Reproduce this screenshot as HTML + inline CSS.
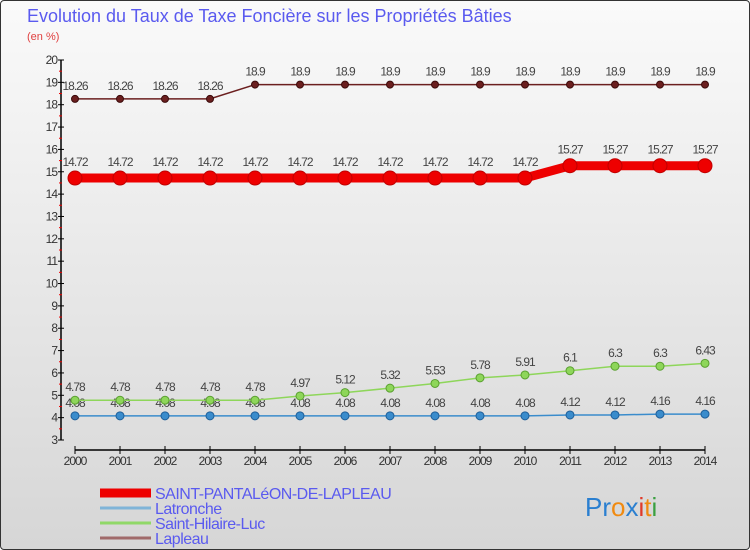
<!DOCTYPE html>
<html><head><meta charset="utf-8"><style>
html,body{margin:0;padding:0;}
body{width:750px;height:550px;overflow:hidden;font-family:"Liberation Sans",sans-serif;}
#wrap{position:absolute;left:0;top:0;width:748px;height:548px;border:1px solid #333;border-radius:4px;background:linear-gradient(#fafafa,#d6d6d6);}
</style></head><body>
<div id="wrap">
<svg id="chart" width="750" height="550" style="position:absolute;left:-1px;top:-1px">
<text x="27" y="22" font-size="18" fill="#5a5aef">Evolution du Taux de Taxe Foncière sur les Propriétés Bâties</text>
<text x="27" y="40" font-size="11" fill="#e04040">(en %)</text>
<g id="axes"></g>
<g id="series"></g>
<g id="legend"></g>
<text x="585" y="516" font-size="26"><tspan fill="#2a7fd0">Pr</tspan><tspan fill="#f08a10">o</tspan><tspan fill="#2a7fd0">x</tspan><tspan fill="#e03a2a">i</tspan><tspan fill="#f08a10">t</tspan><tspan fill="#3aa040">i</tspan></text>
</svg>
</div>
<script>
const years=[2000,2001,2002,2003,2004,2005,2006,2007,2008,2009,2010,2011,2012,2013,2014];
const saintPantaleon=[14.72,14.72,14.72,14.72,14.72,14.72,14.72,14.72,14.72,14.72,14.72,15.27,15.27,15.27,15.27];
const latronche=[4.08,4.08,4.08,4.08,4.08,4.08,4.08,4.08,4.08,4.08,4.08,4.12,4.12,4.16,4.16];
const saintHilaire=[4.78,4.78,4.78,4.78,4.78,4.97,5.12,5.32,5.53,5.78,5.91,6.1,6.3,6.3,6.43];
const lapleau=[18.26,18.26,18.26,18.26,18.9,18.9,18.9,18.9,18.9,18.9,18.9,18.9,18.9,18.9,18.9];
const yTicks=[3,4,5,6,7,8,9,10,11,12,13,14,15,16,17,18,19,20];
const seriesNames=["SAINT-PANTALéON-DE-LAPLEAU","Latronche","Saint-Hilaire-Luc","Lapleau"];
const NS="http://www.w3.org/2000/svg";
const X=i=>75+i*45;
const Y=v=>440-(v-3)*(380/17);
function mk(tag,attrs,parent,txt){const e=document.createElementNS(NS,tag);for(const k in attrs)e.setAttribute(k,attrs[k]);if(txt!==undefined)e.textContent=txt;parent.appendChild(e);return e;}
const ax=document.getElementById('axes');
let l=mk('line',{x1:61,y1:60,x2:61,y2:440,stroke:'#000','stroke-width':1.5},ax);


yTicks.forEach(t=>{
 mk('line',{x1:58,y1:Y(t),x2:64,y2:Y(t),stroke:'#000'},ax);
 if(t<20)mk('line',{x1:59,y1:Y(t+0.5),x2:62,y2:Y(t+0.5),stroke:'#e00'},ax);
 const tx=mk('text',{x:57,y:Y(t)+4,'text-anchor':'end','font-size':12,fill:'#333','letter-spacing':'-1'},ax,t);
 
 
});
l=mk('line',{x1:75,y1:450,x2:705,y2:450,stroke:'#000','stroke-width':1.5},ax);


years.forEach((y,i)=>{
 mk('line',{x1:X(i),y1:446,x2:X(i),y2:454,stroke:'#000'},ax);
 const tx=mk('text',{x:X(i),y:465,'text-anchor':'middle','font-size':12,fill:'#333','letter-spacing':'-1'},ax,y);
 
 
});
const sg=document.getElementById('series');
function draw(vals,color,dark,w,r,name,labelDy){
 const g=mk('g',{},sg);
 
 
 mk('polyline',{points:vals.map((v,i)=>X(i)+','+Y(v)).join(' '),fill:'none',stroke:color,'stroke-width':w},g);
 vals.forEach((v,i)=>{
  const c=mk('circle',{cx:X(i),cy:Y(v),r:r,fill:color,stroke:dark,'stroke-width':1},g);
  
  
  const t=mk('text',{x:X(i),y:Y(v)+labelDy,'text-anchor':'middle','font-size':12,fill:'#444','letter-spacing':'-1'},g,v);
  
  
 });
}
draw(lapleau,'#6b1f1f','#3a0a0a',1.5,3.5,'lapleau-series',-9);
draw(latronche,'#3a8ccc','#1f5f99',1.5,4,'latronche-series',-9);
draw(saintHilaire,'#8ed65a','#5aa030',1.5,4,'saint-hilaire-series',-9);
draw(saintPantaleon,'#ee0000','#c00000',9,7,'saint-pantaleon-series',-12);
const lg=document.getElementById('legend');
const cols=['#ee0000','#7fb4d8','#90d868','#a06a6a'];
const ws=[9,3,3,3];
seriesNames.forEach((n,i)=>{
 const y=493+i*15;
 const g=mk('g',{},lg);
 
 
 mk('line',{x1:100,y1:y,x2:151,y2:y,stroke:cols[i],'stroke-width':ws[i]},g);
 mk('text',{x:155,y:y+6,'font-size':16,fill:'#5a5aef','letter-spacing':'-0.5'},g,n);
});
</script>
</body></html>
